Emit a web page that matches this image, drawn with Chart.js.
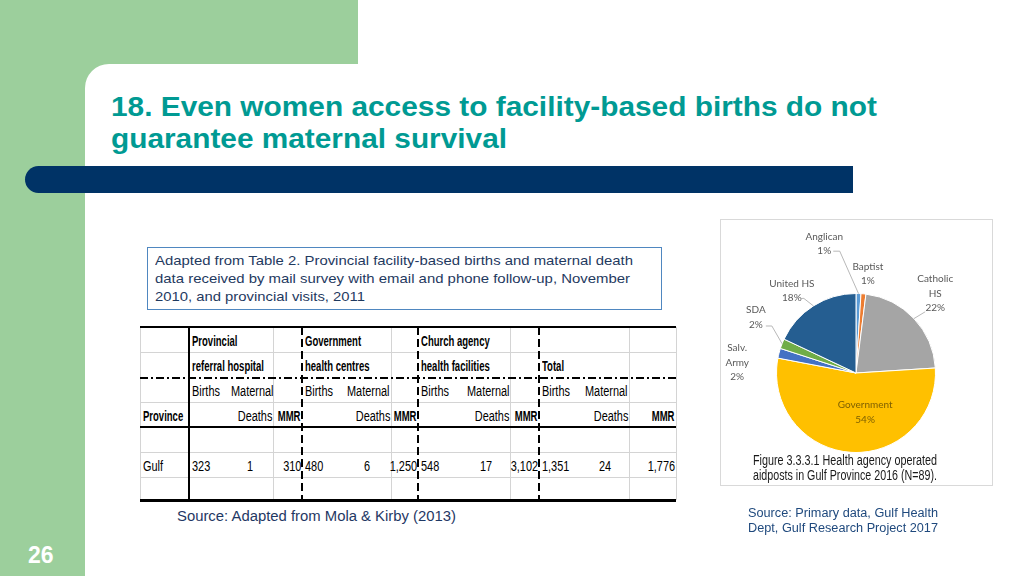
<!DOCTYPE html>
<html>
<head>
<meta charset="utf-8">
<script src="https://cdn.jsdelivr.net/npm/chart.js@4.4.0/dist/chart.umd.min.js"></script>
<style>
body{margin:0;width:1024px;height:576px;overflow:hidden;position:relative;background:#fff;font-family:"Liberation Sans",Arial,sans-serif}
.abs{position:absolute}
.line{position:absolute;white-space:nowrap;transform-origin:left center;line-height:1}
.tw{position:absolute;width:0;height:0}
.tc{position:absolute;top:-8px;line-height:16px;font-size:14px;white-space:nowrap;color:#000}
.tc.l{left:0;transform-origin:left center;transform:scaleX(.78)}
.tc.r{right:0;transform-origin:right center;transform:scaleX(.78)}
.tc.c{left:0;transform-origin:center center;transform:translateX(-50%) scaleX(.78)}
.tc.b{font-weight:bold}
.tc.l.b{transform:scaleX(.68)}
.tc.r.b{transform:scaleX(.68)}
</style>
</head>
<body>
<!-- slide background -->
<div class="abs" style="left:0;top:0;width:358px;height:120px;background:#9ccf9c"></div>
<div class="abs" style="left:0;top:0;width:85px;height:576px;background:#9ccf9c"></div>
<div class="abs" style="left:85px;top:64px;width:939px;height:512px;background:#fff;border-top-left-radius:24px"></div>
<div class="abs" style="left:25px;top:166px;width:828px;height:27px;background:#003366;border-radius:13.5px 0 0 13.5px"></div>

<div class="line fit" data-w="766" style="left:111px;top:93px;font-size:28px;font-weight:bold;color:#009a93">18. Even women access to facility-based births do not</div>
<div class="line fit" data-w="396" style="left:111px;top:125px;font-size:28px;font-weight:bold;color:#009a93">guarantee maternal survival</div>

<!-- table note -->
<div class="abs" style="left:147px;top:247px;width:513px;height:61px;border:1px solid #4f87c0"></div>
<div class="line fit" data-w="478" style="left:155px;top:254px;font-size:13.5px;color:#1f3a5f">Adapted from Table 2. Provincial facility-based births and maternal death</div>
<div class="line fit" data-w="475" style="left:155px;top:272px;font-size:13.5px;color:#1f3a5f">data received by mail survey with email and phone follow-up, November</div>
<div class="line fit" data-w="210" style="left:155px;top:290px;font-size:13.5px;color:#1f3a5f">2010, and provincial visits, 2011</div>

<div id="tbl" class="abs" style="left:0;top:0;width:1024px;height:576px"></div>

<div class="line fit" data-w="279" style="left:177px;top:509px;font-size:14px;color:#1f3864">Source: Adapted from Mola &amp; Kirby (2013)</div>

<!-- pie figure -->
<div class="abs" style="left:720px;top:219px;width:271px;height:265px;border:1px solid #d9d9d9">
  <canvas id="pie" width="271" height="265"></canvas>
</div>
<div class="line fit" data-w="184" style="left:753px;top:453px;font-size:14px;color:#1a1a1a">Figure 3.3.3.1 Health agency operated</div>
<div class="line fit" data-w="184" style="left:753px;top:468px;font-size:14px;color:#1a1a1a">aidposts in Gulf Province 2016 (N=89).</div>

<div class="line fit" data-w="190" style="left:748px;top:507px;font-size:12.5px;color:#1f497d">Source: Primary data, Gulf Health</div>
<div class="line fit" data-w="190" style="left:748px;top:522px;font-size:12.5px;color:#1f497d">Dept, Gulf Research Project 2017</div>

<div class="line" style="left:28px;top:544px;font-size:23px;font-weight:bold;color:#fff">26</div>

<script>
// pie data
const agencies = ['Anglican', 'Baptist', 'Catholic HS', 'Government', 'Salv. Army', 'SDA', 'United HS'];
const agencyShares = [1, 1, 22, 54, 2, 2, 18];
const agencyColors = ['#5b9bd5', '#ed7d31', '#a5a5a5', '#ffc000', '#4472c4', '#70ad47', '#255e91'];

// table data
const tableGroups = [['Provincial', 'referral hospital'], ['Government', 'health centres'], ['Church agency', 'health facilities'], ['', 'Total']];
const tableProvince = 'Gulf';
const groupBirths = [323, 480, 548, 1351];
const groupDeaths = [1, 6, 17, 24];
const groupMMR = [310, 1250, 3102, 1776];

// label placement: [distance as share of radius, angle shift in degrees]
const labelLayout = [[1.675, -15.6], [1.26, 1.4], [1.41, -1.8], [0.51, -16.6], [1.5, -9.4], [1.44, 7.4], [1.31, -5.6]];
const labelWrap = [false, false, true, false, true, false, false];
// leader line end relative to label centre: [dx elbow, dy, dx end]
const leaderLayout = [[15.5, 7.5, 9], null, [-10, 18, null], null, null, [16, 8.5, 10], [12, 7.5, 9]];

const sliceLabels = {
  id: 'sliceLabels',
  afterDatasetsDraw(chart) {
    const ctx = chart.ctx;
    const arcs = chart.getDatasetMeta(0).data;
    ctx.save();
    ctx.font = '10px Lato, "Open Sans", sans-serif';
    ctx.textAlign = 'center';
    ctx.textBaseline = 'middle';
    ctx.strokeStyle = '#a6a6a6';
    ctx.lineWidth = 0.8;
    arcs.forEach((arc, i) => {
      const p = arc.getProps(['x', 'y', 'startAngle', 'endAngle', 'outerRadius']);
      const mid = (p.startAngle + p.endAngle) / 2;
      const a = mid + labelLayout[i][1] * Math.PI / 180;
      const d = p.outerRadius * labelLayout[i][0];
      const lx = p.x + Math.cos(a) * d;
      const ly = p.y + Math.sin(a) * d;
      let lines = labelWrap[i] ? agencies[i].split(' ') : [agencies[i]];
      lines = lines.concat([agencyShares[i] + '%']);
      ctx.fillStyle = i === 3 ? '#7f6000' : '#595959';
      const top = ly - (lines.length - 1) * 7.25;
      lines.forEach((t, k) => ctx.fillText(t, lx, top + k * 14.5));
      const ld = leaderLayout[i];
      if (ld) {
        ctx.beginPath();
        if (ld[2] !== null) ctx.moveTo(lx + ld[2], ly + ld[1]);
        else ctx.moveTo(lx + ld[0], ly + ld[1]);
        ctx.lineTo(lx + ld[0], ly + ld[1]);
        ctx.lineTo(p.x + Math.cos(mid) * p.outerRadius, p.y + Math.sin(mid) * p.outerRadius);
        ctx.stroke();
      }
    });
    ctx.restore();
  }
};

new Chart(document.getElementById('pie'), {
  type: 'pie',
  data: {
    labels: agencies,
    datasets: [{
      data: agencyShares,
      backgroundColor: agencyColors,
      borderColor: '#fff',
      borderWidth: 1
    }]
  },
  options: {
    responsive: false,
    animation: false,
    layout: { padding: { left: 55, right: 56, top: 73, bottom: 32 } },
    plugins: { legend: { display: false }, tooltip: { enabled: false } }
  },
  plugins: [sliceLabels]
});

// table
const tbl = document.getElementById('tbl');
const colEdges = [140, 189, 226, 273, 302, 342, 391, 418, 462, 510, 539, 580, 629, 676];
const rowEdges = [327, 352, 378, 402, 427, 452, 477, 500];
const rowMid = i => (rowEdges[i] + rowEdges[i + 1]) / 2 + 1;

function box(l, t, w, h, bg) {
  const d = document.createElement('div');
  d.className = 'abs';
  d.style.cssText += 'left:' + l + 'px;top:' + t + 'px;width:' + w + 'px;height:' + h + 'px;background:' + bg;
  tbl.appendChild(d);
}
function cellText(txt, x, y, align, bold) {
  const wrap = document.createElement('div');
  wrap.className = 'tw';
  wrap.style.left = x + 'px';
  wrap.style.top = y + 'px';
  const s = document.createElement('span');
  s.textContent = txt;
  s.className = 'tc ' + align + (bold ? ' b' : '');
  wrap.appendChild(s);
  tbl.appendChild(wrap);
}

const left = colEdges[0], right = colEdges[colEdges.length - 1], W = right - left;
const top0 = rowEdges[0], H = rowEdges[rowEdges.length - 1] - top0;
// gray grid
[1, 3, 5, 6].forEach(r => box(left, rowEdges[r], W, 1, '#d4d4d4'));
[0, 3, 6, 9, 12, 13].forEach(c => box(colEdges[c], top0, 1, H, '#d4d4d4'));
// strong rules
box(left, rowEdges[0] - 1, W, 2, '#000');
box(left, rowEdges[4] - 1, W, 2, '#000');
box(left, rowEdges[7] - 1, W, 3, '#000');
box(colEdges[1] - 1, top0, 2, H, '#000');
[4, 7, 10].forEach(c => box(colEdges[c] - 1, top0, 1.5, H, 'repeating-linear-gradient(to bottom,#000 0 8px,transparent 8px 12px)'));
box(left, rowEdges[2] - 1, W, 1.5, 'repeating-linear-gradient(to right,#000 0 8px,transparent 8px 11px,#000 11px 13px,transparent 13px 16px)');

const fmt = v => v.toLocaleString('en-US');
cellText('Province', colEdges[0] + 3, rowMid(3), 'l', true);
cellText(tableProvince, colEdges[0] + 3, rowMid(5), 'l', false);
tableGroups.forEach((g, k) => {
  const cb = colEdges[1 + 3 * k], cd = colEdges[2 + 3 * k], cm = colEdges[3 + 3 * k], ce = colEdges[4 + 3 * k];
  if (g[0]) cellText(g[0], cb + 3, rowMid(0), 'l', true);
  cellText(g[1], cb + 3, rowMid(1), 'l', true);
  cellText('Births', cb + 3, rowMid(2), 'l', false);
  cellText('Maternal', cd + 5, rowMid(2), 'l', false);
  cellText('Deaths', cm - 1, rowMid(3), 'r', false);
  cellText('MMR', ce - 2, rowMid(3), 'r', true);
  cellText(fmt(groupBirths[k]), cb + 3, rowMid(5), 'l', false);
  cellText(fmt(groupDeaths[k]), (cd + cm) / 2, rowMid(5), 'c', false);
  cellText(fmt(groupMMR[k]), ce - 1, rowMid(5), 'r', false);
});

// squeeze text lines to the widths of the slide
document.querySelectorAll('.fit').forEach(el => {
  const w = el.getBoundingClientRect().width;
  el.style.transform = 'scaleX(' + (el.dataset.w / w) + ')';
});
</script>
</body>
</html>
